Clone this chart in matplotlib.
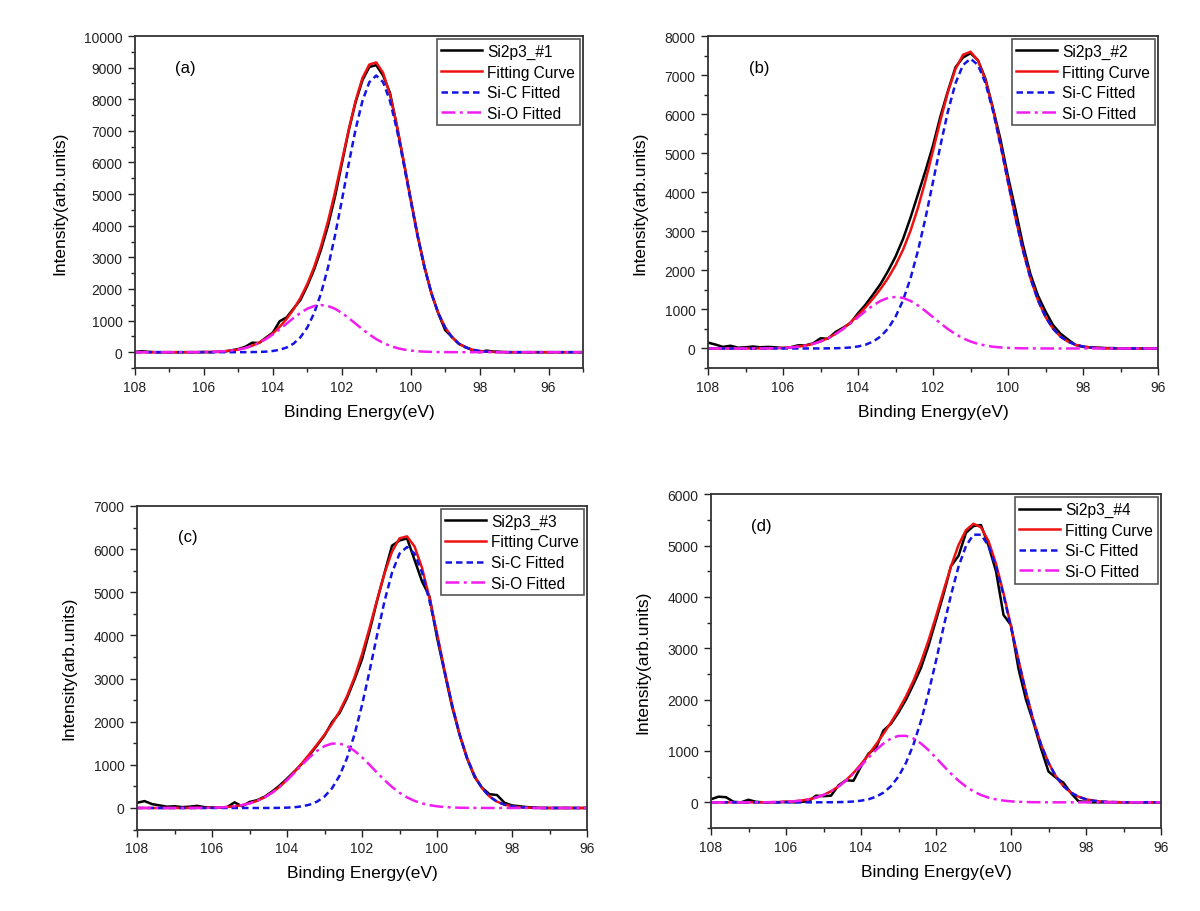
import numpy as np
import matplotlib
matplotlib.use('Agg')
from matplotlib import pyplot as plt
from matplotlib.ticker import MultipleLocator

plt.rcParams['font.family'] = ['Liberation Sans', 'DejaVu Sans']

# binding energy axis of the scans (0.2 eV step)
energy_1 = np.linspace(108, 95, 66)
energy = np.linspace(108, 96, 61)

# ---- sample #1 ----
raw_1 = [10, 30, 10, 0, 0, 0, 0, 0, 0, 0,
         5, 0, 10, 20, 60, 100, 170, 300, 290, 460,
         620, 980, 1100, 1380, 1650, 2100, 2620, 3250, 4000, 4900,
         5950, 7000, 7900, 8600, 9020, 9080, 8750, 8200, 7150, 6000,
         4850, 3700, 2700, 1870, 1230, 700, 480, 260, 160, 60,
         0, 50, 20, 10, 0] + [0] * 11
fit_1 = [0] * 8 + [1, 2, 5, 9, 17, 30, 51, 84, 133, 206, 303, 432, 597, 803, 1052,
                   1352, 1715, 2156, 2697, 3356, 4139, 5043, 6028, 7028, 7944,
                   8671, 9099, 9164, 8835, 8147, 7172, 6030, 4835, 3698, 2696,
                   1875, 1242, 783, 472, 270, 148, 77, 38, 18, 8, 4, 1] + [0] * 11
sic_1 = [0] * 16 + [1, 4, 8, 18, 38, 77, 148, 270, 471, 781, 1237, 1866, 2679, 3668,
                    4784, 5946, 7040, 7945, 8540, 8750, 8540, 7945, 7040, 5946, 4784,
                    3668, 2679, 1866, 1237, 781, 471, 270, 148, 77, 38, 18, 8, 4, 1] + [0] * 11
sio_1 = [0] * 8 + [1, 2, 5, 9, 17, 30, 51, 84, 132, 202, 295, 414, 559, 726, 904,
                   1082, 1244, 1375, 1460, 1490, 1460, 1375, 1244, 1082, 904, 726,
                   559, 414, 295, 202, 132, 84, 51, 30, 17, 9, 5, 2, 1] + [0] * 19

# ---- sample #2 ----
raw_2 = [150, 100, 40, 70, 20, 30, 50, 30, 40, 30,
         10, 30, 80, 80, 130, 260, 250, 420, 530, 650,
         900, 1120, 1380, 1650, 1980, 2350, 2800, 3350, 3950, 4550,
         5200, 5950, 6600, 7200, 7450, 7560, 7380, 6900, 6150, 5350,
         4400, 3550, 2650, 1900, 1350, 950, 600, 380, 230, 90,
         40, 30, 20, 10, 10, 0] + [0] * 5
fit_2 = [0] * 6 + [1, 2, 4, 8, 15, 26, 45, 74, 117, 180, 264, 373, 507, 669, 852,
                   1054, 1277, 1523, 1802, 2130, 2526, 3014, 3607, 4299, 5065,
                   5847, 6573, 7158, 7518, 7599, 7374, 6865, 6123, 5230, 4279,
                   3349, 2509, 1798, 1233, 810, 508, 305, 175, 96, 51, 26, 12, 6, 3, 1] + [0] * 5
sic_2 = [0] * 15 + [1, 3, 6, 12, 26, 51, 96, 175, 305, 508, 810, 1232, 1796, 2505,
                    3341, 4264, 5204, 6078, 6791, 7257, 7420, 7257, 6791, 6078, 5204,
                    4264, 3341, 2505, 1796, 1232, 810, 508, 305, 175, 96, 51, 26, 12,
                    6, 3, 1] + [0] * 5
sio_2 = [0] * 6 + [1, 2, 4, 8, 15, 26, 45, 74, 117, 179, 261, 367, 495, 643, 801,
                   958, 1102, 1218, 1294, 1320, 1294, 1218, 1102, 958, 801, 643, 495,
                   367, 261, 179, 117, 74, 45, 26, 15, 8, 4, 2, 1] + [0] * 16

# ---- sample #3 ----
raw_3 = [120, 160, 90, 60, 30, 40, 20, 30, 50, 20,
         10, 10, 20, 130, 40, 140, 180, 260, 380, 520,
         680, 850, 1030, 1230, 1450, 1680, 1990, 2200, 2550, 2980,
         3450, 4100, 4800, 5450, 6080, 6200, 6250, 5750, 5250, 4900,
         3950, 3150, 2350, 1700, 1150, 720, 470, 320, 300, 120,
         60, 40, 20, 10, 0, 0] + [0] * 5
fit_3 = [0] * 7 + [1, 2, 3, 6, 12, 22, 39, 66, 107, 165, 246, 355, 490, 652, 837,
                   1039, 1252, 1471, 1700, 1950, 2240, 2593, 3031, 3562, 4173, 4821,
                   5439, 5943, 6250, 6296, 6061, 5563, 4861, 4041, 3194, 2399, 1713,
                   1162, 749, 458, 266, 147, 77, 38, 18, 8, 3, 1] + [0] * 6
sic_3 = [0] * 18 + [1, 3, 8, 18, 38, 77, 147, 266, 457, 747, 1159, 1707, 2387, 3172,
                    4002, 4795, 5456, 5896, 6050, 5896, 5456, 4795, 4002, 3172, 2387,
                    1707, 1159, 747, 457, 266, 147, 77, 38, 18, 8, 3, 1] + [0] * 6
sio_3 = [0] * 7 + [1, 2, 3, 6, 12, 22, 39, 66, 107, 165, 246, 354, 487, 644, 819,
                   1001, 1175, 1324, 1434, 1493, 1493, 1434, 1324, 1175, 1001, 819,
                   644, 487, 354, 246, 165, 107, 66, 39, 22, 12, 6, 3, 2, 1] + [0] * 14

# ---- sample #4 ----
raw_4 = [60, 110, 100, 10, 0, 50, 10, 0, 0, 0,
         10, 0, 10, 20, 130, 120, 130, 330, 430, 420,
         700, 950, 1060, 1400, 1530, 1750, 2000, 2300, 2620, 3050,
         3550, 4050, 4600, 4800, 5250, 5380, 5400, 5000, 4500, 3650,
         3450, 2600, 2000, 1550, 1050, 600, 480, 380, 180, 20,
         10, 0, 0, 0, 0, 0] + [0] * 5
fit_4 = [0] * 6 + [1, 1, 3, 6, 11, 19, 34, 57, 92, 144, 215, 310, 430, 574, 742,
                   927, 1127, 1336, 1558, 1797, 2063, 2371, 2732, 3153, 3622, 4117,
                   4596, 5010, 5301, 5425, 5355, 5087, 4645, 4072, 3426, 2766, 2141,
                   1588, 1129, 770, 503, 315, 189, 109, 60, 32, 16, 8, 4, 2] + [0] * 5
sic_4 = [0] * 15 + [1, 2, 4, 8, 16, 32, 60, 109, 189, 315, 503, 769, 1128, 1585,
                    2135, 2755, 3407, 4038, 4588, 4995, 5212, 5212, 4995, 4588, 4038,
                    3407, 2755, 2135, 1585, 1128, 769, 503, 315, 189, 109, 60, 32, 16,
                    8, 4, 2] + [0] * 5
sio_4 = [0] * 6 + [1, 1, 3, 6, 11, 19, 34, 57, 92, 143, 213, 306, 422, 558, 710,
                   867, 1018, 1147, 1243, 1294, 1294, 1243, 1147, 1018, 867, 710, 558,
                   422, 306, 213, 143, 92, 57, 34, 19, 11, 6, 3, 1, 1] + [0] * 15

panels = [
    ('(a)', 'Si2p3_#1', energy_1, raw_1, fit_1, sic_1, sio_1, 10000, 95, [0.1125, 0.5954, 0.3733, 0.364]),
    ('(b)', 'Si2p3_#2', energy, raw_2, fit_2, sic_2, sio_2, 8000, 96, [0.59, 0.5954, 0.375, 0.364]),
    ('(c)', 'Si2p3_#3', energy, raw_3, fit_3, sic_3, sio_3, 7000, 96, [0.1142, 0.0893, 0.375, 0.3548]),
    ('(d)', 'Si2p3_#4', energy, raw_4, fit_4, sic_4, sio_4, 6000, 96, [0.5925, 0.091, 0.375, 0.366]),
]

fig = plt.figure(figsize=(12, 9.12), dpi=100)

for tag, name, x, raw, fit, sic, sio, ytop, xend, rect in panels:
    ax = fig.add_axes(rect)
    ax.plot(x, raw, color='black', lw=1.8, label=name)
    ax.plot(x, fit, color='#ee1111', lw=1.8, label='Fitting Curve')
    ax.plot(x, sic, color='#1414e6', lw=1.8, dashes=(2.6, 1.6), label='Si-C Fitted')
    ax.plot(x, sio, color='#f01cf0', lw=1.8, dashes=(5.5, 1.8, 1.2, 1.8), label='Si-O Fitted')

    ax.set_xlim(108, xend)
    ax.set_ylim(-500, ytop)
    ax.xaxis.set_major_locator(MultipleLocator(2))
    ax.xaxis.set_minor_locator(MultipleLocator(1))
    ax.yaxis.set_major_locator(MultipleLocator(1000))
    ax.yaxis.set_minor_locator(MultipleLocator(500))
    ax.tick_params(which='major', direction='out', length=5, width=1, labelsize=10, colors='#222222')
    ax.tick_params(axis='y', which='major', pad=4)
    ax.tick_params(which='minor', direction='out', length=3, width=1, colors='#222222')
    for sp in ax.spines.values():
        sp.set_linewidth(1.3)
        sp.set_color('#333333')

    ax.set_xlabel('Binding Energy(eV)', fontsize=12.5, labelpad=7)
    ax.set_ylabel('Intensity(arb.units)', fontsize=12.5, labelpad=12)
    ax.text(0.09, 0.905, tag, transform=ax.transAxes, fontsize=12, va='center')

    leg = ax.legend(loc='upper right', fontsize=11.2, fancybox=False, framealpha=1,
                    borderaxespad=0.2, handlelength=2.6, handletextpad=0.35,
                    labelspacing=0.36, borderpad=0.3)
    leg.get_frame().set_edgecolor('#555555')
    leg.get_frame().set_linewidth(1.2)

plt.savefig('out.png')
